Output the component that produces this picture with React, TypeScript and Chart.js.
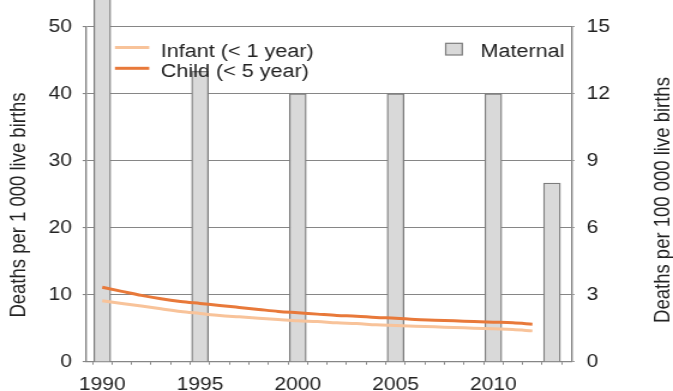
import React, { useEffect, useRef } from "react";
import { Chart, registerables } from "chart.js";

Chart.register(...registerables);

// ---------- data ----------
const years = [1990, 1991, 1992, 1993, 1994, 1995, 1996, 1997, 1998, 1999, 2000, 2001, 2002, 2003, 2004, 2005, 2006, 2007, 2008, 2009, 2010, 2011, 2012];
const infantRate = [9.1, 8.7, 8.3, 7.9, 7.5, 7.2, 6.9, 6.7, 6.5, 6.3, 6.1, 6.0, 5.8, 5.7, 5.5, 5.4, 5.3, 5.2, 5.1, 5.0, 4.9, 4.8, 4.6];
const childRate = [11.1, 10.5, 9.9, 9.4, 9.0, 8.7, 8.4, 8.1, 7.8, 7.5, 7.3, 7.1, 6.9, 6.8, 6.6, 6.5, 6.3, 6.2, 6.1, 6.0, 5.9, 5.8, 5.6];
const maternalYears = [1990, 1995, 2000, 2005, 2010, 2013];
const maternalRate = [18, 13, 12, 12, 12, 8];

const xTickYears = [1990, 1991, 1992, 1993, 1994, 1995, 1996, 1997, 1998, 1999, 2000, 2001, 2002, 2003, 2004, 2005, 2006, 2007, 2008, 2009, 2010, 2011, 2012, 2013];
const xLabelYears = [1990, 1995, 2000, 2005, 2010];
const leftTicks = [0, 10, 20, 30, 40, 50];
const rightTicks = [0, 3, 6, 9, 12, 15];

const infantLabel = "Infant (< 1 year)";
const childLabel = "Child (< 5 year)";
const maternalLabel = "Maternal";
const leftTitle = "Deaths per 1 000 live births";
const rightTitle = "Deaths per 100 000 live births";

// ---------- style ----------
const FONT = '"Liberation Sans", Arial, Helvetica, sans-serif';
const INT_W = 561; // internal canvas width (stretched horizontally by CSS)
const INT_H = 391;
const CSS_W = 673;
const INFANT_COLOR = "#f8c39a";
const CHILD_COLOR = "#e8793a";
const BAR_FILL = "#d9d9d9";
const BAR_BORDER = "#7c7c7c";
const GRID = "#868686";
const TEXT = "#222222";

const legendPlugin = {
  id: "customLegendTitles",
  afterDatasetsDraw(chart: any) {
    const ctx = chart.ctx as CanvasRenderingContext2D;
    ctx.save();
    ctx.lineWidth = 3;
    ctx.strokeStyle = INFANT_COLOR;
    ctx.beginPath();
    ctx.moveTo(95.8, 47.5);
    ctx.lineTo(124.4, 47.5);
    ctx.stroke();
    ctx.strokeStyle = CHILD_COLOR;
    ctx.beginPath();
    ctx.moveTo(95.8, 68.3);
    ctx.lineTo(124.4, 68.3);
    ctx.stroke();
    ctx.fillStyle = TEXT;
    ctx.font = `18px ${FONT}`;
    ctx.textAlign = "left";
    ctx.textBaseline = "alphabetic";
    ctx.fillText(infantLabel, 134.0, 56.5);
    ctx.fillText(childLabel, 134.0, 76.5);
    ctx.fillStyle = BAR_FILL;
    ctx.fillRect(371.5, 43.3, 13.8, 11.7);
    ctx.lineWidth = 1.2;
    ctx.strokeStyle = BAR_BORDER;
    ctx.strokeRect(371.5, 43.3, 13.8, 11.7);
    ctx.fillStyle = TEXT;
    ctx.fillText(maternalLabel, 400.5, 56.5);
    ctx.restore();
  },
  afterDraw(chart: any) {
    const ctx = chart.ctx as CanvasRenderingContext2D;
    const drawTitle = (text: string, x: number, y: number) => {
      ctx.save();
      ctx.fillStyle = TEXT;
      ctx.font = `18.5px ${FONT}`;
      ctx.textAlign = "center";
      ctx.textBaseline = "middle";
      ctx.translate(x, y);
      ctx.rotate(-Math.PI / 2);
      ctx.fillText(text, 0, 0);
      ctx.restore();
    };
    drawTitle(leftTitle, 15.8, 205);
    drawTitle(rightTitle, 552.5, 200);
  },
};

export default function App() {
  const canvasRef = useRef<HTMLCanvasElement | null>(null);

  useEffect(() => {
    document.body.style.margin = "0";
    const canvas = canvasRef.current;
    if (!canvas) return;
    Chart.defaults.font.family = FONT;

    const tickFont = { family: FONT, size: 17.5 };

    const chart = new Chart(canvas, {
      type: "bar",
      data: {
        datasets: [
          {
            type: "line",
            label: infantLabel,
            data: years.map((y, i) => ({ x: y, y: infantRate[i] })),
            borderColor: INFANT_COLOR,
            backgroundColor: INFANT_COLOR,
            borderWidth: 3,
            pointRadius: 0,
            cubicInterpolationMode: "monotone",
            yAxisID: "y",
            order: 0,
          } as any,
          {
            type: "line",
            label: childLabel,
            data: years.map((y, i) => ({ x: y, y: childRate[i] })),
            borderColor: CHILD_COLOR,
            backgroundColor: CHILD_COLOR,
            borderWidth: 3,
            pointRadius: 0,
            cubicInterpolationMode: "monotone",
            yAxisID: "y",
            order: 0,
          } as any,
          {
            type: "bar",
            label: maternalLabel,
            data: maternalYears.map((y, i) => ({ x: y, y: maternalRate[i] })),
            backgroundColor: BAR_FILL,
            borderColor: BAR_BORDER,
            borderWidth: 1.3,
            borderSkipped: "bottom",
            barThickness: 14,
            yAxisID: "y1",
            clip: false,
            order: 1,
          } as any,
        ],
      },
      options: {
        animation: false,
        responsive: false,
        devicePixelRatio: 1,
        layout: { padding: { top: 26.7, left: 0, right: 0, bottom: 0 } },
        plugins: {
          legend: { display: false },
          tooltip: { enabled: false },
          title: { display: false },
        },
        scales: {
          x: {
            type: "linear",
            position: "bottom",
            offset: false,
            min: 1989.15,
            max: 2014,
            afterBuildTicks: (scale: any) => {
              scale.ticks = xTickYears.map((v) => ({ value: v }));
            },
            afterFit: (scale: any) => {
              scale.height = INT_H - 361.7;
            },
            ticks: {
              autoSkip: false,
              maxRotation: 0,
              minRotation: 0,
              padding: 10,
              color: TEXT,
              font: tickFont,
              callback: (v: any) => (xLabelYears.includes(Number(v)) ? String(v) : ""),
            },
            grid: { drawOnChartArea: false, drawTicks: true, tickLength: 3, color: GRID, lineWidth: 1 },
            border: { color: GRID, width: 1.2 },
          },
          y: {
            type: "linear",
            position: "left",
            min: 0,
            max: 50,
            afterBuildTicks: (scale: any) => {
              scale.ticks = leftTicks.map((v) => ({ value: v }));
            },
            afterFit: (scale: any) => {
              scale.width = 71.4;
            },
            ticks: { padding: 9, color: TEXT, font: tickFont },
            grid: { color: GRID, lineWidth: 1.1, tickLength: 2.5, drawTicks: true },
            border: { color: GRID, width: 1.4 },
          },
          y1: {
            type: "linear",
            position: "right",
            min: 0,
            max: 15,
            afterBuildTicks: (scale: any) => {
              scale.ticks = rightTicks.map((v) => ({ value: v }));
            },
            afterFit: (scale: any) => {
              scale.width = INT_W - 476.4;
            },
            ticks: { padding: 10, color: TEXT, font: tickFont },
            grid: { drawOnChartArea: false, color: GRID, lineWidth: 1.1, tickLength: 2.5, drawTicks: true },
            border: { color: GRID, width: 1.4 },
          },
        },
      } as any,
      plugins: [legendPlugin],
    });

    return () => {
      chart.destroy();
    };
  }, []);

  return (
    <canvas
      ref={canvasRef}
      width={INT_W}
      height={INT_H}
      style={{ display: "block", width: `${CSS_W}px`, height: `${INT_H}px` }}
    />
  );
}
